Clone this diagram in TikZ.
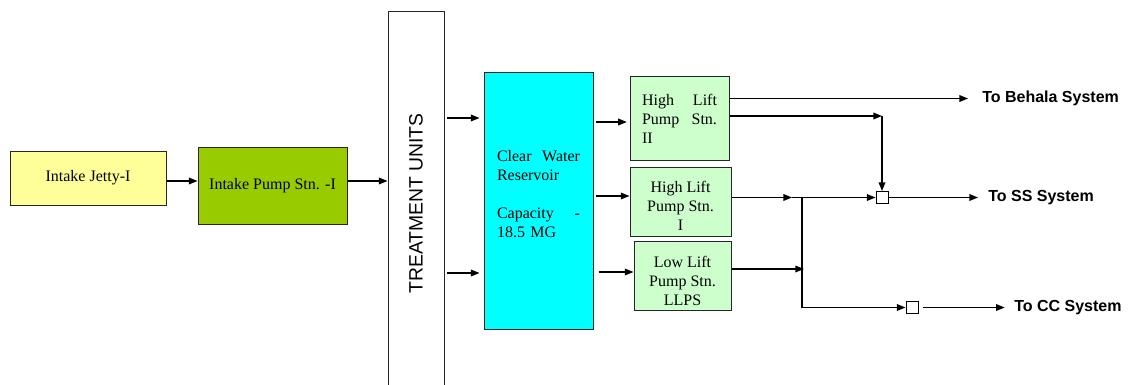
\documentclass[tikz,border=0pt]{standalone}
\usepackage{fontspec}
\setmainfont{Liberation Serif}
\newfontfamily\arialfont{Liberation Sans}
\usetikzlibrary{arrows.meta}
\definecolor{jetty}{HTML}{FFFF99}
\definecolor{pumpg}{HTML}{99CC00}
\definecolor{resv}{HTML}{00FFFF}
\definecolor{pgreen}{HTML}{CCFFCC}
\tikzset{
  box/.style={draw=black!85, line width=0.75pt, inner sep=0pt, font=\fontsize{12pt}{14.25pt}\selectfont},
  txt/.style={inner sep=0pt, font=\fontsize{12pt}{14.25pt}\selectfont},
  arr/.style={line width=1pt, -{Triangle[length=6.5pt,width=5pt]}},
  ln/.style={line width=1.2pt},
  sqr/.style={draw=black, line width=0.75pt, fill=white, minimum size=9pt, inner sep=0pt},
  lab/.style={font=\arialfont\bfseries\fontsize{12pt}{14pt}\selectfont, inner sep=0pt, anchor=west}
}
\begin{document}
\begin{tikzpicture}[x=0.75pt,y=-0.75pt]
\clip (0,0) rectangle (1128,385);
\fill[white] (0,0) rectangle (1128,385);
% boxes
\node[box, fill=jetty, minimum width=117pt, minimum height=40.5pt] (jetty) at (88,178) {Intake Jetty-I};
\node[box, fill=pumpg, minimum width=111.75pt, minimum height=57.75pt] (pump) at (272.5,185.5) {Intake Pump Stn. -I};
\node[box, fill=white, rotate=90, minimum width=287.25pt, minimum height=42pt, font=\arialfont\fontsize{14.5pt}{17pt}\selectfont] (treat) at (416,203.5) {TREATMENT UNITS};
\node[box, fill=resv, minimum width=81.75pt, minimum height=192pt] (res) at (538.5,201) {};
\node[txt, text width=62.25pt, align=left] (resT) at (538.5,194) {Clear\hfill Water\\Reservoir\\[14.25pt]Capacity\hfill -\\18.5 MG};
\node[box, fill=pgreen, minimum width=74.25pt, minimum height=62.25pt, text width=56.25pt, align=left] (hl2) at (679.5,118.5) {High\hfill Lift\\Pump\hfill Stn.\\II};
\node[box, fill=pgreen, minimum width=75.75pt, minimum height=51.75pt] (hl1) at (680.5,201.5) {};
\node[txt, align=center] (hl1T) at (680.5,206) {High Lift\\Pump Stn.\\I};
\node[box, fill=pgreen, minimum width=72.75pt, minimum height=51.75pt] (ll) at (682.5,275.5) {};
\node[txt, align=center] (llT) at (682.5,281) {Low Lift\\Pump Stn.\\LLPS};
% squares
\node[sqr] (sq1) at (882,197.5) {};
\node[sqr] (sq2) at (912,307.5) {};
% labels
\node[lab] (behala) at (982,98.5) {To Behala System};
\node[lab] (ss) at (988,197.5) {To SS System};
\node[lab] (cc) at (1014,308) {To CC System};
% coordinates
\coordinate (a1) at (0,181);
\coordinate (t1) at (0,118);
\coordinate (t2) at (0,273);
\coordinate (r1) at (0,122);
\coordinate (r2) at (0,196);
\coordinate (r3) at (0,272);
\coordinate (j2) at (882,116);
\coordinate (m1) at (792,197.5);
\coordinate (v1) at (802,197.5);
\coordinate (v2) at (802,307.5);
\coordinate (v3) at (804,269);
% connectors
\draw[arr] (jetty.east |- a1) -- (pump.west |- a1);
\draw[arr] (pump.east |- a1) -- (treat.north |- a1);
\draw[arr, shorten <=1.5pt, shorten >=3pt] (treat.south |- t1) -- (res.west |- t1);
\draw[arr, shorten <=1.5pt, shorten >=3pt] (treat.south |- t2) -- (res.west |- t2);
\draw[arr, shorten <=2pt, shorten >=2pt] (res.east |- r1) -- (hl2.west |- r1);
\draw[arr, shorten <=2pt] (res.east |- r2) -- (hl1.west |- r2);
\draw[arr, shorten <=4pt] (res.east |- r3) -- (ll.west |- r3);
\draw[arr, shorten >=10.5pt] (hl2.east |- behala) -- (behala.west);
\draw[arr] (hl2.east |- j2) -- (j2);
\draw[arr] (j2) -- (sq1.north);
\draw[arr] (hl1.east |- m1) -- (m1);
\draw[arr] (m1) -- (sq1.west);
\draw[ln] (v1) -- (v2);
\draw[arr] (v2) -- (sq2.west);
\draw[arr] (ll.east |- v3) -- (v3);
\draw[arr, shorten >=7.5pt] (sq1.east) -- (ss.west |- sq1.east);
\draw[arr, shorten <=3pt, shorten >=7pt] (sq2.east) -- (cc.west |- sq2.east);
\end{tikzpicture}
\end{document}
